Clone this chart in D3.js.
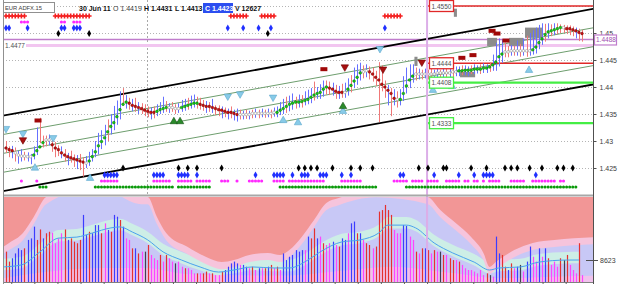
<!DOCTYPE html>
<html><head><meta charset="utf-8">
<script src="https://cdn.jsdelivr.net/npm/d3@7/dist/d3.min.js"></script>
<style>
html,body{margin:0;padding:0;background:#fff;overflow:hidden}
svg{display:block;font-family:"Liberation Sans",Arial,sans-serif}
</style></head><body>
<svg id="chart" width="625" height="284"></svg>
<script>
// ================= DATA =================
const symbolName = "EUR ADFX.15";
const headerTexts = ["30 Jun 11","O 1.4419","H 1.4431","L 1.4413","C 1.4423","V 12627"];

const maPrice = [
1.4287,1.4284,1.4282,1.4278,1.4274,1.4272,1.4272,1.4271,1.4271,1.4274,
1.4282,1.4289,1.4297,1.4302,1.4302,1.4293,1.4287,1.4284,1.4278,1.4274,
1.4271,1.4269,1.4267,1.4265,1.4263,1.4261,1.4259,1.4263,1.4271,1.4280,
1.4291,1.4299,1.4306,1.4317,1.4327,1.4334,1.4345,1.4358,1.4368,1.4372,
1.4370,1.4366,1.4364,1.4362,1.4360,1.4357,1.4355,1.4353,1.4353,1.4355,
1.4358,1.4360,1.4362,1.4362,1.4362,1.4360,1.4360,1.4362,1.4364,1.4366,
1.4368,1.4370,1.4370,1.4368,1.4366,1.4364,1.4364,1.4362,1.4360,1.4358,
1.4357,1.4355,1.4353,1.4353,1.4351,1.4349,1.4349,1.4349,1.4349,1.4349,
1.4351,1.4351,1.4351,1.4351,1.4351,1.4351,1.4351,1.4353,1.4353,1.4357,
1.4360,1.4364,1.4368,1.4370,1.4372,1.4372,1.4373,1.4375,1.4377,1.4381,
1.4385,1.4388,1.4390,1.4396,1.4400,1.4398,1.4396,1.4392,1.4390,1.4390,
1.4390,1.4396,1.4403,1.4411,1.4418,1.4426,1.4428,1.4430,1.4428,1.4424,
1.4418,1.4413,1.4405,1.4400,1.4394,1.4388,1.4379,1.4377,1.4377,1.4388,
1.4402,1.4413,1.4420,1.4424,1.4424,1.4424,1.4424,1.4424,1.4424,1.4424,
1.4426,1.4426,1.4426,1.4426,1.4426,1.4428,1.4428,1.4430,1.4430,1.4431,
1.4431,1.4431,1.4433,1.4433,1.4433,1.4435,1.4435,1.4437,1.4441,1.4446,
1.4456,1.4461,1.4465,1.4465,1.4467,1.4467,1.4467,1.4467,1.4467,1.4467,
1.4467,1.4469,1.4474,1.4482,1.4489,1.4497,1.4502,1.4504,1.4506,1.4508,
1.4510,1.4510,1.4508,1.4508,1.4506,1.4504,1.4501,1.4499];

const barHigh = [
1.4300,1.4290,1.4291,1.4288,1.4282,1.4285,1.4280,1.4279,1.4276,1.4290,
1.4325,1.4343,1.4310,1.4310,1.4312,1.4305,1.4298,1.4292,1.4290,1.4285,
1.4278,1.4282,1.4275,1.4274,1.4276,1.4270,1.4272,1.4280,1.4285,1.4300,
1.4315,1.4320,1.4330,1.4340,1.4350,1.4365,1.4375,1.4392,1.4398,1.4385,
1.4380,1.4378,1.4380,1.4372,1.4370,1.4368,1.4364,1.4362,1.4364,1.4368,
1.4372,1.4382,1.4374,1.4370,1.4372,1.4368,1.4370,1.4376,1.4378,1.4380,
1.4384,1.4386,1.4382,1.4380,1.4376,1.4374,1.4372,1.4378,1.4366,1.4366,
1.4364,1.4362,1.4360,1.4364,1.4358,1.4360,1.4358,1.4356,1.4358,1.4356,
1.4358,1.4360,1.4358,1.4360,1.4358,1.4360,1.4358,1.4362,1.4364,1.4372,
1.4378,1.4382,1.4384,1.4388,1.4382,1.4386,1.4385,1.4392,1.4395,1.4398,
1.4410,1.4400,1.4405,1.4412,1.4412,1.4410,1.4408,1.4404,1.4402,1.4406,
1.4408,1.4416,1.4422,1.4436,1.4442,1.4445,1.4440,1.4442,1.4438,1.4436,
1.4430,1.4446,1.4440,1.4412,1.4404,1.4398,1.4396,1.4392,1.4396,1.4420,
1.4436,1.4442,1.4442,1.4436,1.4434,1.4432,1.4434,1.4432,1.4434,1.4432,
1.4434,1.4432,1.4436,1.4434,1.4434,1.4436,1.4438,1.4438,1.4440,1.4440,
1.4438,1.4440,1.4442,1.4440,1.4442,1.4444,1.4442,1.4446,1.4460,1.4482,
1.4490,1.4488,1.4482,1.4476,1.4478,1.4476,1.4486,1.4480,1.4490,1.4495,
1.4500,1.4505,1.4510,1.4515,1.4518,1.4517,1.4518,1.4516,1.4518,1.4518,
1.4516,1.4515,1.4514,1.4514,1.4512,1.4510,1.4508,1.4506];

const barLow = [
1.4278,1.4270,1.4268,1.4262,1.4258,1.4262,1.4264,1.4262,1.4257,1.4266,
1.4274,1.4296,1.4288,1.4290,1.4292,1.4280,1.4270,1.4272,1.4268,1.4262,
1.4255,1.4260,1.4252,1.4248,1.4246,1.4234,1.4250,1.4254,1.4262,1.4270,
1.4275,1.4285,1.4292,1.4300,1.4312,1.4320,1.4330,1.4340,1.4366,1.4360,
1.4358,1.4355,1.4354,1.4350,1.4350,1.4346,1.4344,1.4340,1.4342,1.4346,
1.4350,1.4352,1.4354,1.4352,1.4354,1.4350,1.4352,1.4354,1.4356,1.4358,
1.4360,1.4362,1.4360,1.4358,1.4356,1.4352,1.4354,1.4352,1.4348,1.4346,
1.4342,1.4344,1.4340,1.4342,1.4338,1.4336,1.4340,1.4340,1.4341,1.4340,
1.4342,1.4343,1.4342,1.4344,1.4343,1.4344,1.4342,1.4345,1.4344,1.4348,
1.4350,1.4352,1.4355,1.4358,1.4360,1.4362,1.4362,1.4366,1.4368,1.4370,
1.4375,1.4378,1.4378,1.4382,1.4386,1.4385,1.4384,1.4378,1.4378,1.4380,
1.4380,1.4384,1.4390,1.4398,1.4404,1.4412,1.4416,1.4418,1.4414,1.4410,
1.4402,1.4335,1.4392,1.4380,1.4366,1.4346,1.4366,1.4362,1.4366,1.4374,
1.4388,1.4398,1.4408,1.4412,1.4414,1.4414,1.4416,1.4414,1.4416,1.4415,
1.4416,1.4418,1.4416,1.4418,1.4416,1.4418,1.4420,1.4420,1.4422,1.4422,
1.4420,1.4424,1.4424,1.4425,1.4424,1.4426,1.4426,1.4428,1.4430,1.4430,
1.4438,1.4445,1.4455,1.4455,1.4458,1.4458,1.4458,1.4456,1.4458,1.4456,
1.4458,1.4460,1.4462,1.4470,1.4478,1.4484,1.4490,1.4494,1.4496,1.4498,
1.4500,1.4500,1.4498,1.4496,1.4494,1.4490,1.4485,1.4484];

const barDir = ("dduduuduuu"+"udddudddud"+"uddudduuuu"+"uuuduuuudu"+"dududddudu"+
  "uududduuud"+"uudddududd"+"ududuududu"+"dudududuuu"+"uduududuuu"+
  "duuuddudud"+"uuduuududd"+"ddddududuu"+"uuudududdu"+"udududuudu"+
  "uduuduuduu"+"uuddududud"+"uuuuududud"+"dddddudd").split("");

const maColorRuns = [["r",3],["w",6],["g",4],["w",2],["r",11],["w",1],["g",13],["r",9],["g",4],["w",4],
  ["g",6],["r",13],["w",12],["g",17],["r",5],["w",1],["g",5],["w",2],["r",9],["w",1],["g",5],["w",14],
  ["g",15],["w",9],["g",10],["w",1],["r",6]];

const volume = [
11900,8000,9300,11200,13200,12500,13200,16500,17100,21700,
16500,20600,17100,19100,19700,19300,15200,17100,19100,20600,
16500,17100,15800,15200,16500,26300,18400,19700,19100,22300,
22300,19100,23000,20400,19700,26300,25600,24300,21700,17100,
16500,13200,13200,11200,11900,11900,14500,10600,9300,8600,
10600,8000,10600,9300,8000,7300,8000,6000,5400,5400,
4700,3400,3400,3400,3400,4100,3400,3400,2700,2700,
4100,4700,6000,7300,8000,7300,6700,6700,6000,5400,
6000,4700,5400,5400,5400,6000,6700,5400,6000,4700,
11200,8600,9900,10600,12500,11900,12500,12500,17800,17100,
21000,17100,17800,15200,14500,15200,15800,14500,13900,17100,
16500,19100,23000,23700,19100,19100,16500,15200,14500,13200,
13900,27600,28200,30200,28200,26300,20400,19100,19100,22300,
22000,17800,16500,11900,11200,13200,13200,12500,11200,12500,
11900,11900,10600,10600,9300,8600,8600,8000,6700,5400,
4700,4700,4100,3400,4700,2700,3400,2700,2100,
17800,11200,10600,6000,4700,7300,5400,6000,6700,4100,
8000,13900,9900,8000,13200,9900,13200,9300,6700,8000,
6000,9300,8600,10600,6700,4700,3400,15200,2700];

const volColor = ("rrbbbbrbbb"+"rrbrrmmmmr"+"brrrrbbrbb"+"brmbrbbrbm"+"mrbrmkrmmm"+
  "rmrmmkmmrm"+"mmrmrrmrmm"+"rbbbbbmbbm"+"rmbmrbrmrm"+"bbbbbbbmbr"+
  "rbmrmmbmrb"+"bmbbrbmrrm"+"rrrrrrmmmb"+"bmmrmrbrmr"+"mkrmrrmrmm"+
  "mmmmmmrkm"+"bbrrbrmbkm"+"bbmmbmbrmm"+"mrkrmmmrm").split("");

const volMAIdx = [-1,5,11,17,23,28,34,37,41,46,51,57,63,69,74,80,87,92,98,102,109,115,121,124,130,133,139,145,152,157,160,167,173,182,186];
const volMA = [5900,6700,11800,17200,17600,19200,21200,21600,19600,16500,11800,8600,5900,3900,4700,5900,5500,5500,8600,11800,15700,16500,19200,22300,22300,21200,15300,11400,7800,4700,5500,5900,7800,8600,8623];

const envIdx = [-1,1,5.5,9,13,30,44,46,49,52,59,65,70,74,79,85,89,92,96,100,104,108,120,137,141,146,151,155,157,159,165,171,178,191];
const volEnvelope = [13700,15300,19200,25500,33300,40000,33300,33300,25500,19200,13700,9800,7800,8600,10600,11400,10600,12500,17600,24300,31000,32900,36000,33300,28200,23100,17600,11400,5900,7800,12500,15300,16500,17600];

const lowIdx = [-1,10,30,45,60,90,110,125,145,160,175,191];
const volLower = [1500,3500,5500,5500,3000,2500,4500,6000,3500,1500,2000,2500];

const priceTicks = [1.425,1.43,1.435,1.44,1.445,1.45];
const gridPrices = [1.425,1.43,1.435,1.44,1.445,1.45,1.455];
const volTickValues = [8623];

const channelIdx = [-1,191];
const channelMid = [1.4277,1.4475];
const channelOffsets = [0.0070,0.0035,0,-0.0035,-0.0070];

const levelPrice = [1.4550,1.4444,1.4408,1.4333];
const levelKind = ["r","r","s","s"];
const pinkLinePrice = 1.4477;
const purpleLinePrice = 1.4488;
const cursorIdx = 45.8;
const markIdx = 136.7;

const skyDownIdx = [0,5.5,15.3,72,76,86.7,121.4];
const skyDownPrice = [1.4323,1.4314,1.4306,1.4383,1.4387,1.4381,1.4471];
const skyUpIdx = [9.4,27.3,90,94.8,109.4,138.6,144.8,169.8];
const skyUpPrice = [1.4250,1.4231,1.4338,1.4334,1.4355,1.4394,1.4401,1.4431];
const darkDownIdx = [5.5,110,122.4,135];
const darkDownPrice = [1.4302,1.4437,1.4433,1.4446];
const greenUpIdx = [54.5,56.5,109.4];
const greenUpPrice = [1.4336,1.4336,1.4364];
const redRectIdx = [10.4,103.2,148,151.6,157.8,159.4,162.3];
const redRectPrice = [1.4338,1.4433,1.4454,1.4459,1.4504,1.4499,1.4486];
const greyRectIdx0 = [145.4,132.6,156.2,163.3,168.5,147.4];
const greyRectIdx1 = [146.4,133.6,159.4,167.9,174,152.3];
const greyRectHi = [1.4545,1.4456,1.4491,1.4491,1.4510,1.4428];
const greyRectLo = [1.4530,1.4439,1.4476,1.4476,1.4491,1.4418];

// signal rows (bar-index ranges)
const topRed = [[0,6],[16,27],[73,78],[83,87],[123,128]];
const topMagenta = [[5,7],[18,19],[22,24]];
const topBlue = [[0,1],[7,7],[18,19],[22,24],[72,72],[77,77],[82,82],[86,86],[123,123]];
const topBlack = [[17,17],[27,27],[85,85]];
const botBlack = [38,56,59,62,70,95,97,99,101,106,112,115,119,134,137,142,143,151,156,162,164,166,170,174,179,181,184].map(v=>[v,v]);
const botBlue = [[32,36],[48,51],[56,59],[62,62],[81,81],[87,90],[93,93],[96,98],[102,104],[109,109],[112,112],[128,129],[139,139],[147,147],[152,152],[155,158],[172,172]];
const botMagenta = [[5,5],[10,10],[31,36],[48,53],[56,60],[62,66],[70,72],[75,75],[79,83],[87,90],[92,103],[109,115],[126,130],[132,135],[137,140],[143,147],[149,150],[152,153],[155,155],[157,160],[164,168],[171,178],[180,181]];
const botGreen = [[11,13],[29,54],[56,66],[89,120],[130,185]];

// ================= DRAW =================
const svg = d3.select("#chart");
const L=3, R=593, MT=0, MB=195, VT=197, VB=282;
const x = d3.scaleLinear().domain([0,187]).range([6,582]);
const y = d3.scaleLinear().domain([1.425,1.455]).range([168,6]);
const vy = d3.scaleLinear().domain([0,33320]).range([VB,VT]);

const defs = svg.append("defs");
defs.append("clipPath").attr("id","cm").append("rect").attr("x",L).attr("y",MT).attr("width",R-L).attr("height",MB-MT);
defs.append("clipPath").attr("id","cv").append("rect").attr("x",L).attr("y",VT).attr("width",R-L).attr("height",VB-VT);

svg.append("rect").attr("width",625).attr("height",284).attr("fill","#fff");
const gm = svg.append("g").attr("clip-path","url(#cm)");
const gv = svg.append("g").attr("clip-path","url(#cv)");

function txt(g,x0,y0,s,o){
  const t=g.append("text").attr("x",x0).attr("y",y0).text(s)
    .attr("font-size",o.size||7).attr("fill",o.fill||"#333").attr("font-weight",o.weight||"normal");
  return t;
}
const px = v => Math.round(v)+0.5;

// ---- main panel ----
gm.selectAll("line.grid").data(gridPrices).join("line").attr("class","grid")
  .attr("x1",L).attr("x2",R).attr("y1",d=>px(y(d))).attr("y2",d=>px(y(d)))
  .attr("stroke","#b4b4b4").attr("stroke-dasharray","1,2");

gm.append("line").attr("x1",px(x(cursorIdx))).attr("x2",px(x(cursorIdx))).attr("y1",MT).attr("y2",MB)
  .attr("stroke","#a8a8a8").attr("stroke-dasharray","2,2");

gm.append("line").attr("x1",L).attr("x2",R).attr("y1",y(pinkLinePrice)).attr("y2",y(pinkLinePrice))
  .attr("stroke","#f2c6f0").attr("stroke-width",3);
gm.append("line").attr("x1",L).attr("x2",R).attr("y1",y(purpleLinePrice)).attr("y2",y(purpleLinePrice))
  .attr("stroke","#c07ccc").attr("stroke-width",1.5);

channelOffsets.forEach(o=>{
  const outer = Math.abs(o) > 0.005;
  gm.append("line").attr("x1",x(channelIdx[0])).attr("y1",y(channelMid[0]+o))
    .attr("x2",x(channelIdx[1])).attr("y2",y(channelMid[1]+o))
    .attr("stroke",outer?"#000":"#6e9e6e").attr("stroke-width",outer?1.8:1);
});

levelPrice.forEach((p,k)=>{
  gm.append("line").attr("x1",x(markIdx)).attr("x2",R).attr("y1",y(p)).attr("y2",y(p))
    .attr("stroke",levelKind[k]==="r"?"#e02828":"#44ee44").attr("stroke-width",levelKind[k]==="r"?1.5:2.2);
});

gm.selectAll("rect.gb").data(greyRectHi).join("rect").attr("class","gb")
  .attr("x",(d,k)=>x(greyRectIdx0[k])).attr("width",(d,k)=>x(greyRectIdx1[k])-x(greyRectIdx0[k]))
  .attr("y",d=>y(d)).attr("height",(d,k)=>y(greyRectLo[k])-y(d)).attr("fill","#8c8c8c");

svg.append("line").attr("x1",x(markIdx)).attr("x2",x(markIdx)).attr("y1",0).attr("y2",VB)
  .attr("stroke","#dcaee8").attr("stroke-width",2);

gm.selectAll("line.bar").data(barHigh).join("line").attr("class","bar")
  .attr("x1",(d,i)=>px(x(i))).attr("x2",(d,i)=>px(x(i)))
  .attr("y1",d=>y(d)).attr("y2",(d,i)=>y(barLow[i]))
  .attr("stroke",(d,i)=>barDir[i]==="u"?"#6670ff":"#f07878").attr("stroke-width",1);

const maCol=[]; maColorRuns.forEach(([c,n])=>{for(let k=0;k<n;k++)maCol.push(c);});
const dotFill={g:"#18c818",r:"#c81010",w:"#ffffff"}, dotStroke={g:"#007000",r:"#700000",w:"#808080"};
gm.selectAll("circle.ma").data(maPrice).join("circle").attr("class","ma")
  .attr("cx",(d,i)=>x(i)).attr("cy",d=>y(d)).attr("r",1.35)
  .attr("fill",(d,i)=>dotFill[maCol[i]]).attr("stroke",(d,i)=>dotStroke[maCol[i]]).attr("stroke-width",0.5);

const tri = d3.symbol(d3.symbolTriangle).size(24)();
function tris(idx,pr,fill,stroke,down){
  gm.selectAll(null).data(pr).join("path").attr("d",tri)
    .attr("transform",(d,k)=>`translate(${x(idx[k])},${y(d)}) rotate(${down?180:0})`)
    .attr("fill",fill).attr("stroke",stroke).attr("stroke-width",0.6);
}
tris(skyDownIdx,skyDownPrice,"#88cbe8","#5aa6cc",true);
tris(skyUpIdx,skyUpPrice,"#88cbe8","#5aa6cc",false);
tris(darkDownIdx,darkDownPrice,"#a81010","#700000",true);
tris(greenUpIdx,greenUpPrice,"#2a8a2a","#105010",false);
gm.selectAll("rect.rr").data(redRectPrice).join("rect").attr("class","rr")
  .attr("x",(d,k)=>x(redRectIdx[k])-3.5).attr("y",d=>y(d)-2).attr("width",7).attr("height",4)
  .attr("fill","#a00808");

function expand(r){const o=[];r.forEach(([a,b])=>{for(let i=a;i<=b;i++)o.push(i);});return o;}
function row(ranges,yy,color,shape){
  const g = svg.append("g");
  const data = expand(ranges);
  if(shape==="diamond"){
    const s=d3.symbol(d3.symbolDiamond).size(14)();
    g.selectAll("path").data(data).join("path").attr("d",s)
      .attr("transform",i=>`translate(${x(i)},${yy})`).attr("fill",color);
  } else if(shape==="cross"){
    const s=d3.symbol(d3.symbolCross).size(13)();
    g.selectAll("path").data(data).join("path").attr("d",s)
      .attr("transform",i=>`translate(${x(i)},${yy})`).attr("fill",color);
  } else {
    g.selectAll("circle").data(data).join("circle").attr("cx",i=>x(i)).attr("cy",yy).attr("r",1.55).attr("fill",color);
  }
}
row(topRed,16,"#f42020","cross");
row(topMagenta,22,"#ff28ff","circle");
row(topBlue,28,"#2030ff","diamond");
row(topBlack,33.5,"#000","diamond");
row(botBlack,168,"#000","diamond");
row(botBlue,175,"#2030ff","diamond");
row(botMagenta,181,"#ff28ff","circle");
row(botGreen,187,"#0a9a0a","circle");

levelPrice.forEach((p,k)=>{
  const c = levelKind[k]==="r"?"#e02828":"#44ee44";
  svg.append("rect").attr("x",429.5).attr("y",y(p)-5.5).attr("width",24).attr("height",11)
    .attr("fill","#fff").attr("stroke",c).attr("stroke-width",1.3);
  txt(svg,431.5,y(p)+2.5,p.toFixed(4),{size:6.5,fill:"#505050"});
});
svg.append("rect").attr("x",4).attr("y",y(pinkLinePrice)-4.5).attr("width",22).attr("height",9).attr("fill","#fff");
txt(svg,5,y(pinkLinePrice)+2.5,pinkLinePrice.toFixed(4),{size:6.5,fill:"#505050"});

// ---- volume panel ----
gv.append("rect").attr("x",L).attr("y",VT).attr("width",R-L).attr("height",VB-VT).attr("fill","#c8c8f6");
gv.append("path").datum(volLower)
  .attr("d",d3.area().x((d,k)=>x(lowIdx[k])).y0(VB).y1(d=>vy(d)).curve(d3.curveMonotoneX))
  .attr("fill","#f0c2ec");
gv.append("path").datum(volMA)
  .attr("d",d3.area().x((d,k)=>x(volMAIdx[k])).y0(d=>vy(d-1300)).y1(d=>vy(d+3200)).curve(d3.curveMonotoneX))
  .attr("fill","#cdeee6");
gv.append("path").datum(volEnvelope)
  .attr("d",d3.area().x((d,k)=>x(envIdx[k])).y0(VT-5).y1(d=>vy(d-2800)).curve(d3.curveMonotoneX))
  .attr("fill","#f6c4dc");
gv.append("path").datum(volEnvelope)
  .attr("d",d3.area().x((d,k)=>x(envIdx[k])).y0(VT-5).y1(d=>vy(d)).curve(d3.curveMonotoneX))
  .attr("fill","#f29696");
const vcol={b:"#3c3cff",r:"#e43030",m:"#ff44ff",k:"#404050"};
gv.selectAll("line.vb").data(volume).join("line").attr("class","vb")
  .attr("x1",(d,i)=>px(x(i))).attr("x2",(d,i)=>px(x(i))).attr("y1",VB).attr("y2",d=>vy(d))
  .attr("stroke",(d,i)=>vcol[volColor[i]]).attr("stroke-width",1.2);
gv.append("path").datum(volMA)
  .attr("d",d3.line().x((d,k)=>x(volMAIdx[k])).y(d=>vy(d)).curve(d3.curveMonotoneX))
  .attr("fill","none").attr("stroke","#4aa2ee").attr("stroke-width",1);

svg.append("line").attr("x1",x(markIdx)).attr("x2",x(markIdx)).attr("y1",VT).attr("y2",VB)
  .attr("stroke","#dcaee8").attr("stroke-width",1.5).attr("opacity",0.8);

// ---- frames & axes ----
svg.append("line").attr("x1",L).attr("x2",R).attr("y1",195.5).attr("y2",195.5).attr("stroke","#a8a8a8").attr("stroke-width",2);
svg.append("line").attr("x1",L).attr("x2",R).attr("y1",VB+0.5).attr("y2",VB+0.5).attr("stroke","#808080");
svg.append("line").attr("x1",L+0.5).attr("x2",L+0.5).attr("y1",0).attr("y2",284).attr("stroke","#909090");
svg.append("line").attr("x1",R+0.5).attr("x2",R+0.5).attr("y1",0).attr("y2",284).attr("stroke","#505050");

const ay = svg.append("g").attr("transform",`translate(${R+0.5},0)`)
  .call(d3.axisRight(y).tickValues(priceTicks).tickSize(3).tickPadding(3).tickFormat(d=>String(+d.toFixed(3))));
ay.select(".domain").remove();
ay.selectAll("line").attr("stroke","#505050");
ay.selectAll("text").attr("font-size",7).attr("fill","#404040").attr("font-family","Liberation Sans, Arial, sans-serif");

const av = svg.append("g").attr("transform",`translate(${R-7},0)`)
  .call(d3.axisRight(vy).tickValues(volTickValues).tickSize(12).tickPadding(2).tickFormat(d3.format("d")));
av.select(".domain").remove();
av.selectAll("line").attr("stroke","#505050");
av.selectAll("text").attr("font-size",7).attr("fill","#404040").attr("font-family","Liberation Sans, Arial, sans-serif");

const ax = svg.append("g").attr("transform",`translate(0,${VB})`)
  .call(d3.axisBottom(x).tickValues(d3.range(1.7,188,7.5)).tickSize(3).tickFormat(""));
ax.select(".domain").remove();
ax.selectAll("line").attr("stroke","#606060");

svg.append("rect").attr("x",594.5).attr("y",y(purpleLinePrice)-4.5).attr("width",22).attr("height",10)
  .attr("fill","#fff").attr("stroke","#c07ccc").attr("stroke-width",1.2);
txt(svg,596,y(purpleLinePrice)+3,purpleLinePrice.toFixed(4),{size:6.5,fill:"#a050b0"});

// ---- header ----
svg.append("rect").attr("x",3.5).attr("y",2.5).attr("width",51).attr("height",10).attr("fill","#fff").attr("stroke","#909090");
txt(svg,5,10,symbolName,{size:5.8,fill:"#404040"});
svg.append("rect").attr("x",203).attr("y",3).attr("width",30).attr("height",10).attr("fill","#2c4ef0");
const hx=[79,113,144,175,205,235];
headerTexts.forEach((s,k)=>{
  txt(svg,hx[k],11,s,{size:7,weight:k===1?"normal":"bold",fill:k===4?"#fff":(k===1?"#404040":"#111")});
});
</script>
</body></html>
